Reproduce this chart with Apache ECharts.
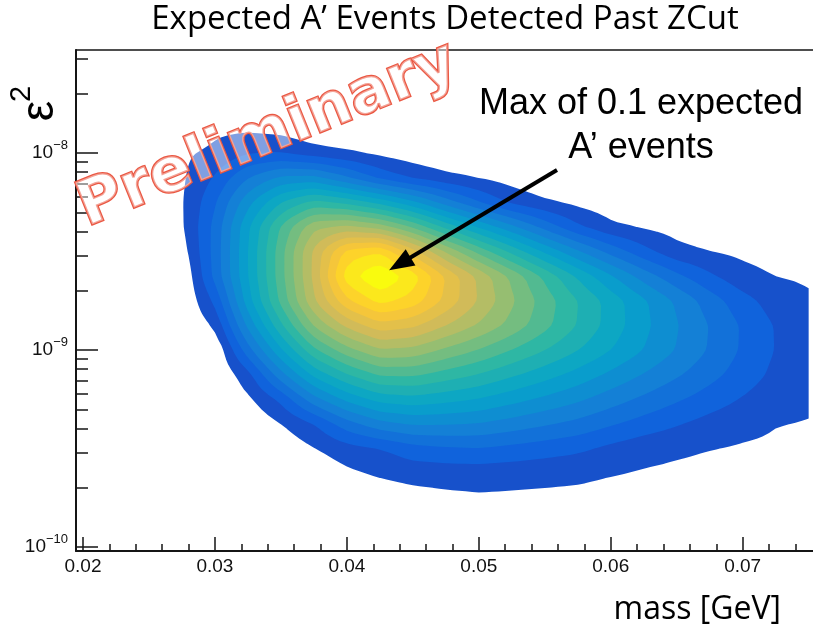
<!DOCTYPE html>
<html>
<head>
<meta charset="utf-8">
<script src="https://cdn.jsdelivr.net/npm/echarts@6/dist/echarts.min.js"></script>
<style>
  html, body { margin: 0; padding: 0; background: #ffffff; }
  #chart { width: 813px; height: 632px; }
</style>
</head>
<body>
<div id="chart"></div>
<script>
// A' mass grid (GeV), one entry per column of the expected-events table
const massBins = [0.0275, 0.03, 0.0325, 0.035, 0.0375, 0.04, 0.0425, 0.045, 0.0475, 0.05,
                  0.0525, 0.055, 0.0575, 0.06, 0.0625, 0.065, 0.0675, 0.07, 0.0725, 0.075];

// log10(epsilon^2), one entry per row of the expected-events table
const logEps2Bins = [-7.75, -7.875, -8.0, -8.125, -8.25, -8.375, -8.5, -8.625, -8.75,
                     -8.875, -9.0, -9.125, -9.25, -9.375, -9.5, -9.625, -9.75, -9.875];

// expected number of A' events detected past the z cut
const expectedEvents = [
  [0.0010, 0.0023, 0.0004, 0, 0, 0, 0, 0, 0, 0, 0, 0, 0, 0, 0, 0, 0, 0, 0, 0],
  [0.0020, 0.0041, 0.0041, 0.0032, 0.0008, 0, 0, 0, 0, 0, 0, 0, 0, 0, 0, 0, 0, 0, 0, 0],
  [0.0043, 0.0059, 0.0096, 0.0100, 0.0074, 0.0058, 0.0038, 0.0022, 0.0004, 0, 0, 0, 0, 0, 0, 0, 0, 0, 0, 0],
  [0.0041, 0.0105, 0.0198, 0.0260, 0.0265, 0.0204, 0.0136, 0.0091, 0.0066, 0.0046, 0.0029, 0.0008, 0, 0, 0, 0, 0, 0, 0, 0],
  [0.0042, 0.0143, 0.0284, 0.0400, 0.0467, 0.0436, 0.0383, 0.0312, 0.0224, 0.0150, 0.0086, 0.0058, 0.0037, 0.0020, 0.0007, 0, 0, 0, 0.0005, 0.0006],
  [0.0039, 0.0165, 0.0341, 0.0506, 0.0639, 0.0665, 0.0629, 0.0544, 0.0436, 0.0344, 0.0263, 0.0181, 0.0108, 0.0061, 0.0044, 0.0031, 0.0023, 0.0021, 0.0015, 0.0016],
  [0.0025, 0.0168, 0.0350, 0.0531, 0.0711, 0.0868, 0.0900, 0.0774, 0.0646, 0.0535, 0.0436, 0.0342, 0.0257, 0.0182, 0.0117, 0.0065, 0.0049, 0.0040, 0.0032, 0.0030],
  [0, 0.0165, 0.0349, 0.0531, 0.0712, 0.0930, 0.1000, 0.0930, 0.0796, 0.0689, 0.0589, 0.0489, 0.0393, 0.0307, 0.0229, 0.0163, 0.0109, 0.0066, 0.0049, 0.0044],
  [0, 0.0110, 0.0328, 0.0514, 0.0693, 0.0841, 0.0919, 0.0879, 0.0787, 0.0696, 0.0609, 0.0527, 0.0451, 0.0379, 0.0309, 0.0242, 0.0176, 0.0119, 0.0076, 0.0055],
  [0, 0.0057, 0.0263, 0.0440, 0.0606, 0.0713, 0.0782, 0.0761, 0.0701, 0.0644, 0.0582, 0.0516, 0.0447, 0.0379, 0.0314, 0.0254, 0.0198, 0.0144, 0.0096, 0.0072],
  [0, 0.0005, 0.0179, 0.0343, 0.0490, 0.0581, 0.0645, 0.0635, 0.0590, 0.0547, 0.0499, 0.0451, 0.0402, 0.0351, 0.0299, 0.0247, 0.0195, 0.0143, 0.0097, 0.0075],
  [0, 0, 0.0081, 0.0231, 0.0364, 0.0447, 0.0507, 0.0509, 0.0478, 0.0447, 0.0409, 0.0371, 0.0332, 0.0289, 0.0247, 0.0207, 0.0167, 0.0126, 0.0088, 0.0070],
  [0, 0, 0.0039, 0.0111, 0.0231, 0.0313, 0.0369, 0.0382, 0.0366, 0.0347, 0.0318, 0.0289, 0.0259, 0.0223, 0.0189, 0.0157, 0.0126, 0.0096, 0.0070, 0.0056],
  [0, 0, 0.0005, 0.0049, 0.0098, 0.0178, 0.0232, 0.0256, 0.0254, 0.0247, 0.0227, 0.0206, 0.0185, 0.0156, 0.0129, 0.0104, 0.0081, 0.0062, 0.0051, 0.0048],
  [0, 0, 0, 0.0012, 0.0048, 0.0080, 0.0098, 0.0130, 0.0142, 0.0147, 0.0136, 0.0123, 0.0110, 0.0087, 0.0067, 0.0058, 0.0051, 0.0046, 0.0044, 0.0040],
  [0, 0, 0, 0, 0.0008, 0.0040, 0.0058, 0.0069, 0.0072, 0.0073, 0.0069, 0.0065, 0.0061, 0.0053, 0.0046, 0.0041, 0.0037, 0.0030, 0.0030, 0.0030],
  [0, 0, 0, 0, 0, 0, 0.0018, 0.0031, 0.0039, 0.0044, 0.0042, 0.0040, 0.0038, 0.0032, 0.0028, 0.0025, 0.0023, 0.0018, 0.0018, 0.0018],
  [0, 0, 0, 0, 0, 0, 0, 0, 0.0006, 0.0014, 0.0015, 0.0016, 0.0016, 0.0012, 0.0009, 0.0008, 0.0009, 0.0006, 0.0008, 0.0008]
];

// contour levels (20 divisions of 0 .. 0.1; the lowest band is left empty)
const contourLevels = [0.005, 0.010, 0.015, 0.020, 0.025, 0.030, 0.035, 0.040, 0.045, 0.050,
                       0.055, 0.060, 0.065, 0.070, 0.075, 0.080, 0.085, 0.090, 0.095];

// axis ticks
const massTicks = [0.02, 0.03, 0.04, 0.05, 0.06, 0.07];
const massMinorTicks = [0.022, 0.024, 0.026, 0.028, 0.032, 0.034, 0.036, 0.038, 0.042, 0.044,
                        0.046, 0.048, 0.052, 0.054, 0.056, 0.058, 0.062, 0.064, 0.066, 0.068,
                        0.072, 0.074];
const eps2Ticks = [1e-10, 1e-9, 1e-8];
const eps2MinorTicks = [2e-10, 3e-10, 4e-10, 5e-10, 6e-10, 7e-10, 8e-10, 9e-10,
                        2e-9, 3e-9, 4e-9, 5e-9, 6e-9, 7e-9, 8e-9, 9e-9, 2e-8, 3e-8];

// visible axis ranges
const MASS_MIN = 0.01947, MASS_MAX = 0.07533;
const LOG_MIN = -10.02, LOG_MAX = -7.477;

const AXIS_FONT = '"Liberation Sans", Arial, Helvetica, sans-serif';
const AXIS_COLOR = '#151515';

// kBird colour palette
const birdStops = [0.0, 0.125, 0.25, 0.375, 0.5, 0.625, 0.75, 0.875, 1.0];
const birdR = [0.2082, 0.0592, 0.0780, 0.0232, 0.1802, 0.5301, 0.8186, 0.9956, 0.9764];
const birdG = [0.1664, 0.3599, 0.5041, 0.6419, 0.7178, 0.7492, 0.7328, 0.7862, 0.9832];
const birdB = [0.5293, 0.8684, 0.8385, 0.7914, 0.6425, 0.4662, 0.3499, 0.1968, 0.0539];

function bird(f) {
  let i = 0;
  while (i < birdStops.length - 2 && f > birdStops[i + 1]) i++;
  const t = (f - birdStops[i]) / (birdStops[i + 1] - birdStops[i]);
  const ch = arr => Math.round(255 * (arr[i] + (arr[i + 1] - arr[i]) * t));
  return 'rgb(' + ch(birdR) + ',' + ch(birdG) + ',' + ch(birdB) + ')';
}

// colour of contour band k (1 = outermost)
function bandColor(k) {
  const idx = Math.min(254, Math.floor((k + 0.99) * 255 / 20));
  return bird(idx / 254);
}

// bilinear refinement of the table in pixel space, lightly smoothed for the contours
let fineCache = null;
function refineGrid(api) {
  const S = 5;
  const nr = logEps2Bins.length, nc = massBins.length;
  const FR = (nr - 1) * S + 1, FC = (nc - 1) * S + 1;
  const xs = [], ys = [];
  let v = [];
  for (let c = 0; c < FC; c++) {
    const j = Math.min(Math.floor(c / S), nc - 2), f = (c - j * S) / S;
    const m = massBins[j] + (massBins[j + 1] - massBins[j]) * f;
    xs.push(api.coord([m, logEps2Bins[0]])[0]);
  }
  for (let r = 0; r < FR; r++) {
    const i = Math.min(Math.floor(r / S), nr - 2), f = (r - i * S) / S;
    const l = logEps2Bins[i] + (logEps2Bins[i + 1] - logEps2Bins[i]) * f;
    ys.push(api.coord([massBins[0], l])[1]);
  }
  for (let r = 0; r < FR; r++) {
    const i = Math.min(Math.floor(r / S), nr - 2), fr = (r - i * S) / S;
    const row = [];
    for (let c = 0; c < FC; c++) {
      const j = Math.min(Math.floor(c / S), nc - 2), fc = (c - j * S) / S;
      const a = expectedEvents[i][j], b = expectedEvents[i][j + 1];
      const d = expectedEvents[i + 1][j], e = expectedEvents[i + 1][j + 1];
      row.push((a * (1 - fc) + b * fc) * (1 - fr) + (d * (1 - fc) + e * fc) * fr);
    }
    v.push(row);
  }
  // one pass of a [1 2 1] kernel along each direction to round the cell corners
  const h = v.map(row => row.map((x, c) => (row[Math.max(0, c - 1)] + 2 * x + row[Math.min(FC - 1, c + 1)]) / 4));
  v = h.map((row, r) => row.map((x, c) => (h[Math.max(0, r - 1)][c] + 2 * x + h[Math.min(FR - 1, r + 1)][c]) / 4));
  return { xs, ys, v };
}

function fmt(n) { return n.toFixed(2); }
function rectPath(x0, y0, x1, y1) {
  return 'M' + fmt(x0) + ' ' + fmt(y0) + 'L' + fmt(x1) + ' ' + fmt(y0) +
         'L' + fmt(x1) + ' ' + fmt(y1) + 'L' + fmt(x0) + ' ' + fmt(y1) + 'Z';
}

// SVG path of the region where the expected events reach the threshold
function regionPath(F, thr) {
  const { xs, ys, v } = F;
  const out = [];
  for (let r = 0; r < ys.length - 1; r++) {
    let runStart = -1;
    for (let c = 0; c < xs.length - 1; c++) {
      const P = [[xs[c], ys[r], v[r][c]], [xs[c + 1], ys[r], v[r][c + 1]],
                 [xs[c + 1], ys[r + 1], v[r + 1][c + 1]], [xs[c], ys[r + 1], v[r + 1][c]]];
      const inside = P.map(p => p[2] >= thr);
      if (inside[0] && inside[1] && inside[2] && inside[3]) {
        if (runStart < 0) runStart = c;
        continue;
      }
      if (runStart >= 0) { out.push(rectPath(xs[runStart], ys[r], xs[c], ys[r + 1])); runStart = -1; }
      if (!(inside[0] || inside[1] || inside[2] || inside[3])) continue;
      const pts = [];
      for (let e = 0; e < 4; e++) {
        const A = P[e], B = P[(e + 1) % 4];
        const inA = A[2] >= thr, inB = B[2] >= thr;
        if (inA) pts.push([A[0], A[1]]);
        if (inA !== inB) {
          const t = (thr - A[2]) / (B[2] - A[2]);
          pts.push([A[0] + t * (B[0] - A[0]), A[1] + t * (B[1] - A[1])]);
        }
      }
      out.push('M' + pts.map(p => fmt(p[0]) + ' ' + fmt(p[1])).join('L') + 'Z');
    }
    if (runStart >= 0) out.push(rectPath(xs[runStart], ys[r], xs[xs.length - 1], ys[r + 1]));
  }
  return out.join('');
}

function renderContour(params, api) {
  const k = params.dataIndex;
  if (k === 0 || !fineCache) fineCache = refineGrid(api);
  const d = regionPath(fineCache, contourLevels[k]);
  if (!d) return null;
  return {
    type: 'path',
    shape: { pathData: d },
    style: { fill: bandColor(k + 1), stroke: null },
    silent: true
  };
}

function expLabel(value) {
  const e = Math.round(value);
  return '{b|10}{s|\u2212' + Math.abs(e) + '}';
}

const tickLine = { color: AXIS_COLOR, width: 1.5 };

const option = {
  animation: false,
  backgroundColor: '#ffffff',
  grid: { left: 76, right: 0, top: 50, bottom: 81, containLabel: false },
  xAxis: [
    {
      type: 'value', min: MASS_MIN, max: MASS_MAX, position: 'bottom',
      axisLine: { show: true, onZero: false, lineStyle: { color: AXIS_COLOR, width: 2 } },
      axisTick: { show: true, inside: true, length: 14, customValues: massTicks, lineStyle: tickLine },
      axisLabel: {
        show: true, customValues: massTicks, margin: 6,
        formatter: v => v.toFixed(2),
        fontSize: 19, fontFamily: AXIS_FONT, color: '#111'
      },
      splitLine: { show: false }
    },
    {
      type: 'value', min: MASS_MIN, max: MASS_MAX, position: 'bottom',
      axisLine: { show: false },
      axisTick: { show: true, inside: true, length: 7, customValues: massMinorTicks, lineStyle: tickLine },
      axisLabel: { show: false },
      splitLine: { show: false }
    },
    {
      type: 'value', min: MASS_MIN, max: MASS_MAX, position: 'top',
      axisLine: { show: true, onZero: false, lineStyle: { color: AXIS_COLOR, width: 1.5 } },
      axisTick: { show: false },
      axisLabel: { show: false },
      splitLine: { show: false }
    }
  ],
  yAxis: [
    {
      type: 'value', min: LOG_MIN, max: LOG_MAX, position: 'left',
      axisLine: { show: true, onZero: false, lineStyle: { color: AXIS_COLOR, width: 2 } },
      axisTick: { show: true, inside: true, length: 22, customValues: eps2Ticks.map(Math.log10), lineStyle: tickLine },
      axisLabel: {
        show: true, customValues: eps2Ticks.map(Math.log10), margin: 8,
        formatter: expLabel,
        rich: {
          b: { fontSize: 19, fontFamily: AXIS_FONT, color: '#111', lineHeight: 28, verticalAlign: 'middle' },
          s: { fontSize: 13, fontFamily: AXIS_FONT, color: '#111', lineHeight: 11, verticalAlign: 'top' }
        }
      },
      splitLine: { show: false }
    },
    {
      type: 'value', min: LOG_MIN, max: LOG_MAX, position: 'left',
      axisLine: { show: false },
      axisTick: { show: true, inside: true, length: 12, customValues: eps2MinorTicks.map(Math.log10), lineStyle: tickLine },
      axisLabel: { show: false },
      splitLine: { show: false }
    }
  ],
  series: [{
    type: 'custom',
    coordinateSystem: 'cartesian2d',
    xAxisIndex: 0, yAxisIndex: 0,
    clip: true,
    silent: true,
    data: contourLevels.map((t, i) => [i, t]),
    encode: { x: 0, y: 1 },
    renderItem: renderContour
  }],
  graphic: [
    {
      id: 'title', type: 'text', x: 445, y: 20, z: 100,
      style: { text: 'Expected A\u2019 Events Detected Past ZCut', fontSize: 33, fontFamily: '"Open Sans", sans-serif',
               fill: '#000', align: 'center', verticalAlign: 'middle' }
    },
    {
      id: 'xname', type: 'text', x: 781, y: 610, z: 100,
      style: { text: 'mass [GeV]', fontSize: 32, fontFamily: '"Open Sans", sans-serif',
               fill: '#000', align: 'right', verticalAlign: 'middle' }
    },
    {
      id: 'yname', type: 'text', x: 40, y: 111, rotation: Math.PI / 2, z: 100,
      style: { text: '\u03b5', fontSize: 46, fontFamily: AXIS_FONT, fill: '#000', align: 'center', verticalAlign: 'middle' }
    },
    {
      id: 'ynameSup', type: 'text', x: 22, y: 94, rotation: Math.PI / 2, z: 100,
      style: { text: '2', fontSize: 29, fontFamily: AXIS_FONT, fill: '#000', align: 'center', verticalAlign: 'middle' }
    },
    {
      id: 'note1', type: 'text', x: 641, y: 104, z: 100,
      style: { text: 'Max of 0.1 expected', fontSize: 36, fontFamily: AXIS_FONT, fill: '#000', align: 'center', verticalAlign: 'middle' }
    },
    {
      id: 'note2', type: 'text', x: 641, y: 148, z: 100,
      style: { text: 'A\u2019 events', fontSize: 36, fontFamily: AXIS_FONT, fill: '#000', align: 'center', verticalAlign: 'middle' }
    },
    {
      id: 'prelim', type: 'text', x: 268, y: 136, rotation: 22 * Math.PI / 180, z: 110,
      style: { text: 'Preliminary', fontSize: 62, fontWeight: 'bold', fontFamily: '"DejaVu Sans", sans-serif',
               fill: 'rgba(255,255,255,0.45)', stroke: '#ea5843', lineWidth: 2.5,
               align: 'center', verticalAlign: 'middle' }
    }
  ]
};

const chart = echarts.init(document.getElementById('chart'), null, { renderer: 'canvas', width: 813, height: 632 });
chart.setOption(option);

// arrow from the note to the maximum of the distribution
const tail = [557, 170];
const tip = chart.convertToPixel({ xAxisIndex: 0, yAxisIndex: 0 }, [0.0432, -8.595]);
const dx = tip[0] - tail[0], dy = tip[1] - tail[1];
const len = Math.sqrt(dx * dx + dy * dy);
const ux = dx / len, uy = dy / len;
const headLen = 25, headHalf = 9.5;
const bx = tip[0] - ux * headLen, by = tip[1] - uy * headLen;
chart.setOption({
  graphic: [
    {
      id: 'arrowLine', type: 'line', z: 105,
      shape: { x1: tail[0], y1: tail[1], x2: bx + ux * 2, y2: by + uy * 2 },
      style: { stroke: '#000', lineWidth: 4 }
    },
    {
      id: 'arrowHead', type: 'polygon', z: 105,
      shape: { points: [[tip[0], tip[1]], [bx - uy * headHalf, by + ux * headHalf], [bx + uy * headHalf, by - ux * headHalf]] },
      style: { fill: '#000' }
    }
  ]
});
</script>
</body>
</html>
